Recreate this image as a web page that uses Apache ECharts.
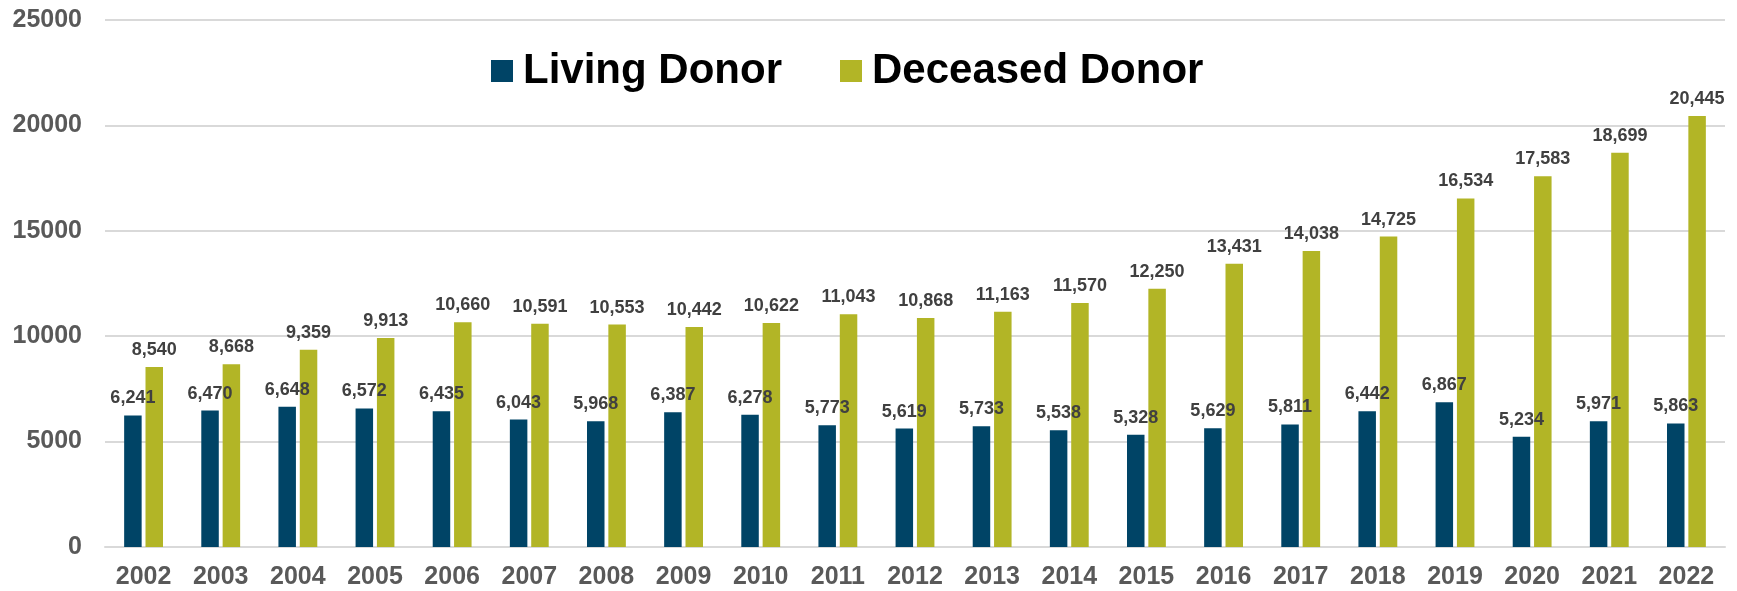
<!DOCTYPE html>
<html>
<head>
<meta charset="utf-8">
<script src="https://cdn.jsdelivr.net/npm/echarts@6/dist/echarts.min.js"></script>
<style>
  html, body { margin: 0; padding: 0; background: #fff; }
  #chart { width: 1737px; height: 591px; }
</style>
</head>
<body>
<div id="chart"></div>
<script>
const years = ['2002', '2003', '2004', '2005', '2006', '2007', '2008', '2009', '2010', '2011', '2012',
  '2013', '2014', '2015', '2016', '2017', '2018', '2019', '2020', '2021', '2022'];
const livingDonor = [6241, 6470, 6648, 6572, 6435, 6043, 5968, 6387, 6278, 5773, 5619,
  5733, 5538, 5328, 5629, 5811, 6442, 6867, 5234, 5971, 5863];
const deceasedDonor = [8540, 8668, 9359, 9913, 10660, 10591, 10553, 10442, 10622, 11043, 10868,
  11163, 11570, 12250, 13431, 14038, 14725, 16534, 17583, 18699, 20445];
const seriesNames = ['Living Donor', 'Deceased Donor'];

const NAVY = '#004466';
const OLIVE = '#B2B526';
const AXIS_GREY = '#595959';
const GRID_GREY = '#D9D9D9';
const FONT = 'Arial, "Liberation Sans", sans-serif';

const chart = echarts.init(document.getElementById('chart'));

// values like 6,241 on top of each bar
const barLabel = {
  show: true,
  position: 'top',
  distance: 8,
  color: '#404040',
  fontSize: 18,
  fontWeight: 'bold',
  fontFamily: FONT,
  formatter: p => p.value.toLocaleString('en-US'),
};

chart.setOption({
  animation: false,
  grid: { left: 105, right: 12, top: 20, bottom: 44 },
  legend: {
    left: 491,
    top: 50,
    padding: 0,
    itemWidth: 22,
    itemHeight: 22,
    itemGap: 58,
    icon: 'rect',
    textStyle: {
      color: '#000',
      fontSize: 42,
      fontWeight: 'bold',
      fontFamily: FONT,
      padding: [0, 0, 0, 5],
    },
    data: seriesNames,
  },
  xAxis: {
    type: 'category',
    data: years,
    axisLine: { lineStyle: { color: GRID_GREY, width: 2 } },
    axisTick: { show: false },
    axisLabel: {
      color: AXIS_GREY, fontSize: 25, fontWeight: 'bold', fontFamily: FONT, margin: 18,
    },
  },
  yAxis: {
    type: 'value',
    min: 0,
    max: 25000,
    interval: 5000,
    axisLine: { show: false },
    axisTick: { show: false },
    splitLine: { lineStyle: { color: GRID_GREY, width: 2 } },
    axisLabel: {
      color: AXIS_GREY, fontSize: 25, fontWeight: 'bold', fontFamily: FONT, margin: 23,
      formatter: v => String(v),
    },
  },
  series: [
    {
      name: seriesNames[0],
      type: 'bar',
      data: livingDonor,
      barWidth: 17.5,
      barGap: '22%',
      itemStyle: { color: NAVY },
      label: barLabel,
    },
    {
      name: seriesNames[1],
      type: 'bar',
      data: deceasedDonor,
      barWidth: 17.5,
      barGap: '22%',
      itemStyle: { color: OLIVE },
      label: barLabel,
    },
  ],
});
</script>
</body>
</html>
